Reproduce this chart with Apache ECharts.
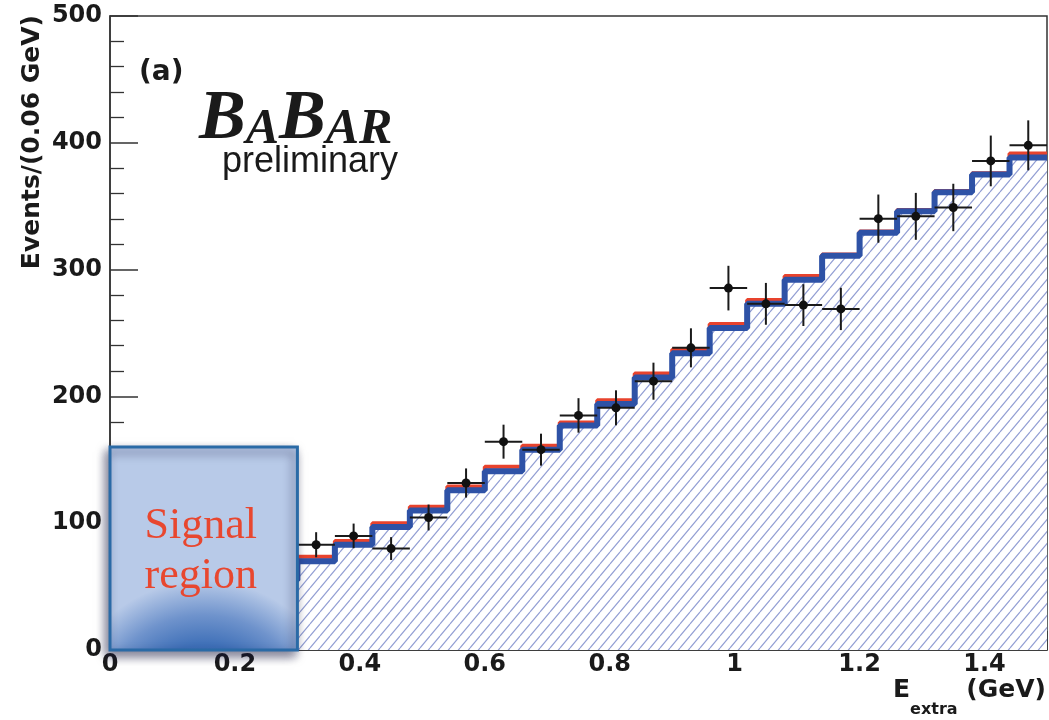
<!DOCTYPE html>
<html><head><meta charset="utf-8">
<script src="https://cdn.jsdelivr.net/npm/echarts@6/dist/echarts.min.js"></script>
<style>html,body{margin:0;padding:0;background:#fff}#c{width:1049px;height:720px}</style>
</head><body><div id="c"></div>
<script>
// ---- data ----
const binEdges = [0.24,0.30,0.36,0.42,0.48,0.54,0.60,0.66,0.72,0.78,0.84,0.90,0.96,1.02,1.08,1.14,1.20,1.26,1.32,1.38,1.44,1.50];
const bkgValues = [55,70,83,97,110,126,141,158,177,194,215,234,254,273,292,311,329,346,361,375,388.5];
const totValues = [58,73.5,86,100,113,129,144.5,161,179.5,197,218,237,257,276,295,312,330,347,362,376,391.5];
const dataX = [0.33,0.39,0.45,0.51,0.57,0.63,0.69,0.75,0.81,0.87,0.93,0.99,1.05,1.11,1.17,1.23,1.29,1.35,1.41,1.47];
const dataY = [83,90,80,104.5,131.7,164.3,158,185,191,212,238.3,285.4,273,272,269,340.2,342,349,385.7,398];
const dataErr = [9.9,9.7,9,10.2,11.5,13.4,12.6,13.6,13.8,14.6,15.4,17.6,16.5,16.5,16.7,19,18.5,18.7,20,19.7];
const halfBin = 0.03;
const signalRegion = [0, 0.3, 0, 160];
const xTicks = {min:0, max:1.5, interval:0.2};
const yTicks = {min:0, max:500, interval:100};

function stepData(edges, vals){
  const out = [];
  for (let i=0;i<vals.length;i++) out.push([edges[i], vals[i]]);
  out.push([edges[edges.length-1], vals[vals.length-1]]);
  return out;
}
function makeHatch(){
  const w=10,h=12;
  const c=document.createElement('canvas'); c.width=w; c.height=h;
  const g=c.getContext('2d');
  g.fillStyle='#ffffff'; g.fillRect(0,0,w,h);
  g.strokeStyle='#939fd4'; g.lineWidth=1.2;
  g.beginPath();
  for (const dx of [-w,0,w]){ g.moveTo(dx,h); g.lineTo(dx+w,0); }
  g.stroke();
  return c;
}
const hatch = makeHatch();
const pts = dataX.map((x,i)=>[x, dataY[i], dataErr[i], halfBin]);

const SANS_B = 'DejaVu Sans';
const chart = echarts.init(document.getElementById('c'), null, {renderer:'canvas'});
const axisFont = {fontFamily:SANS_B, fontWeight:'bold', fontSize:24, color:'#1a1a1a'};
chart.setOption({
  animation:false,
  grid:{left:110, right:2, top:16, bottom:70, show:true, borderColor:'#333', borderWidth:1.5, outerBoundsMode:'none', containLabel:false},
  xAxis:{type:'value', min:xTicks.min, max:xTicks.max, interval:xTicks.interval,
    axisLine:{show:true, onZero:false, lineStyle:{color:'#333', width:1.5}},
    axisTick:{show:true, inside:true, length:19, lineStyle:{color:'#333', width:1.5}},
    minorTick:{show:true, splitNumber:4, length:10, lineStyle:{color:'#333', width:1.3}},
    splitLine:{show:false},
    axisLabel:Object.assign({margin:3, showMaxLabel:false, showMinLabel:true}, axisFont)
  },
  yAxis:{type:'value', min:yTicks.min, max:yTicks.max, interval:yTicks.interval,
    axisLine:{show:true, onZero:false, lineStyle:{color:'#333', width:1.5}},
    axisTick:{show:true, inside:true, length:28, lineStyle:{color:'#333', width:1.5}},
    minorTick:{show:true, splitNumber:5, length:14, lineStyle:{color:'#333', width:1.3}},
    splitLine:{show:false},
    axisLabel:Object.assign({margin:8}, axisFont)
  },
  graphic:[
    {type:'text', x:32, y:15, rotation:Math.PI/2, z:50,
      style:{text:'Events/(0.06 GeV)', fontFamily:SANS_B, fontWeight:'bold', fontSize:25, fill:'#1a1a1a', align:'right', verticalAlign:'middle'}},
    {type:'text', x:1046, y:678, z:50,
      style:{text:'{m|E}{s|extra}{m| (GeV)}', align:'right', verticalAlign:'top', fill:'#1a1a1a',
        rich:{m:{fontFamily:SANS_B, fontWeight:'bold', fontSize:25, lineHeight:25, verticalAlign:'top', fill:'#1a1a1a'},
              s:{fontFamily:SANS_B, fontWeight:'bold', fontSize:16, lineHeight:16, verticalAlign:'top', padding:[24,0,0,0], fill:'#1a1a1a'}}}},
    {type:'text', x:139, y:59, z:50,
      style:{text:'(a)', fontFamily:SANS_B, fontWeight:'bold', fontSize:28, fill:'#1a1a1a', align:'left', verticalAlign:'top'}},
    {type:'text', x:199, y:155, z:50,
      style:{text:'{b|B}{s|A}{b|B}{s|AR}', align:'left', verticalAlign:'bottom', fill:'#1a1a1a',
        rich:{b:{fontFamily:'Liberation Serif', fontStyle:'italic', fontWeight:'bold', fontSize:70, lineHeight:70, verticalAlign:'bottom', fill:'#1a1a1a'},
              s:{fontFamily:'Liberation Serif', fontStyle:'italic', fontWeight:'bold', fontSize:50, lineHeight:57, verticalAlign:'bottom', fill:'#1a1a1a'}}}},
    {type:'text', x:222, y:162, z:50,
      style:{text:'preliminary', fontFamily:'Liberation Sans', fontSize:36, fill:'#1a1a1a', align:'left', verticalAlign:'middle'}}
  ],
  series:[
    {name:'total', type:'line', step:'end', data:stepData(binEdges, totValues), symbol:'none', z:3,
      lineStyle:{color:'#e8432d', width:4}},
    {name:'background', type:'line', step:'end', data:stepData(binEdges, bkgValues), symbol:'none', z:4,
      lineStyle:{color:'#2e52a6', width:6},
      areaStyle:{color:{image:hatch, repeat:'repeat'}, opacity:1, origin:'start'}},
    {name:'data', type:'custom', z:6, data:pts,
      renderItem:function(params, api){
        const x=api.value(0), y=api.value(1), e=api.value(2), h=api.value(3);
        const c=api.coord([x,y]), l=api.coord([x-h,y]), r=api.coord([x+h,y]);
        const t=api.coord([x,y+e]), b=api.coord([x,y-e]);
        const st={stroke:'#1a1a1a', lineWidth:2};
        return {type:'group', children:[
          {type:'line', shape:{x1:l[0],y1:l[1],x2:r[0],y2:r[1]}, style:st},
          {type:'line', shape:{x1:t[0],y1:t[1],x2:b[0],y2:b[1]}, style:st},
          {type:'circle', shape:{cx:c[0],cy:c[1],r:4.5}, style:{fill:'#111'}}
        ]};
      }},
    {name:'signal', type:'line', data:[], z:20, silent:true,
      markArea:{silent:true, z:20,
        itemStyle:{opacity:1,
          color:{type:'radial', x:0.5, y:1.35, r:0.75, colorStops:[
            {offset:0, color:'#2a5aa5'},{offset:0.55, color:'#3f70b8'},{offset:0.76, color:'#6f93cc'},{offset:1, color:'#b8cae8'}]},
          borderColor:'#2a6aa6', borderWidth:3,
          shadowBlur:10, shadowColor:'rgba(20,20,60,0.55)', shadowOffsetX:-3, shadowOffsetY:5},
        label:{show:true, position:'inside', offset:[-3,3], formatter:'Signal\nregion',
          fontFamily:'Liberation Serif', fontSize:44, lineHeight:50, color:'#e8472f'},
        data:[[{coord:[signalRegion[0], signalRegion[2]]},{coord:[signalRegion[1], signalRegion[3]]}]]
      }}
  ]
});
</script></body></html>
